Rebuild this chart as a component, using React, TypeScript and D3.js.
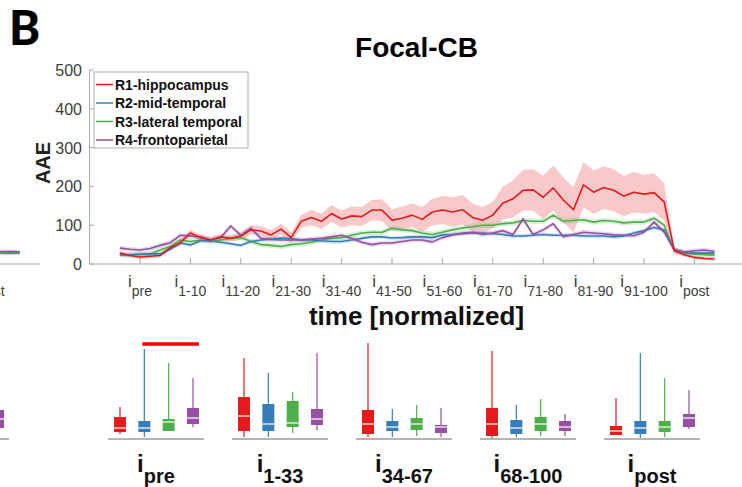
import React from "react";
import * as d3 from "d3";

// ---------- DATA ----------
const SERIES = ["R1-hippocampus", "R2-mid-temporal", "R3-lateral temporal", "R4-frontoparietal"];
const COLORS = ["#e41a1c", "#377eb8", "#4daf4a", "#984ea3"];

const TICK_POS = [0, 10, 20, 30, 40, 50, 60, 70, 80, 90, 100, 110];
const TICK_SUB = ["pre", "1-10", "11-20", "21-30", "31-40", "41-50", "51-60", "61-70", "71-80", "81-90", "91-100", "post"];
const Y_TICKS = [0, 100, 200, 300, 400, 500];

// sample positions (normalized time units)
const T = d3.range(60).map((k) => -4 + 2 * k);

const R1 = [28, 22, 18, 20, 22, 42, 55, 80, 68, 62, 70, 66, 72, 88, 85, 75, 90, 68, 110, 120,
  110, 130, 116, 124, 122, 139, 139, 113, 118, 126, 115, 134, 139, 134, 140, 120, 113, 126, 157, 168,
  190, 191, 172, 196, 165, 140, 204, 185, 197, 190, 175, 185, 180, 184, 160, 35, 24, 17, 14, 13];
const R1_SEM = [5, 5, 5, 5, 5, 6, 8, 8, 8, 8, 8, 8, 10, 12, 12, 12, 14, 14, 16, 20,
  20, 22, 22, 24, 25, 26, 28, 28, 30, 30, 32, 34, 36, 38, 38, 36, 34, 34, 42, 48,
  52, 54, 56, 58, 58, 58, 58, 56, 55, 54, 52, 52, 50, 50, 48, 10, 5, 4, 4, 4];
const R2 = [24, 24, 25, 26, 26, 38, 54, 49, 60, 60, 56, 52, 48, 58, 62, 64, 67, 65, 62, 62,
  60, 58, 58, 62, 66, 70, 70, 67, 68, 70, 70, 68, 75, 76, 78, 80, 80, 78, 76, 72,
  72, 74, 76, 74, 74, 74, 72, 72, 72, 70, 72, 80, 86, 94, 88, 36, 30, 28, 28, 28];
const R3 = [23, 24, 25, 26, 36, 45, 62, 58, 62, 58, 62, 66, 68, 58, 50, 48, 45, 50, 52, 56,
  62, 66, 68, 74, 80, 82, 82, 92, 88, 86, 80, 76, 82, 88, 93, 96, 100, 100, 104, 106,
  112, 110, 110, 126, 110, 112, 114, 108, 112, 110, 106, 108, 108, 118, 100, 36, 28, 25, 24, 23];
const R4 = [41, 38, 36, 40, 48, 55, 74, 72, 70, 62, 68, 98, 74, 92, 66, 63, 62, 62, 62, 64,
  66, 70, 74, 66, 56, 50, 54, 54, 58, 62, 62, 57, 68, 75, 80, 82, 76, 80, 86, 76,
  116, 76, 88, 104, 70, 76, 82, 80, 78, 75, 74, 73, 82, 108, 82, 36, 31, 34, 36, 32];
const OTHER_SEM = [5, 7, 6]; // R2, R3, R4

// fragment of the neighbouring panel (left edge)
const PREV_T = [104, 106, 108, 110, 112, 114, 116];
const PREV_VALUES = [
  [30, 29, 30, 29, 30, 29, 30],
  [27, 26, 27, 26, 27, 28, 27],
  [29, 28, 30, 29, 28, 30, 29],
  [33, 32, 34, 33, 32, 33, 32],
];

// box plots: [lo, q1, median, q3, hi] per group per series
const GROUPS = ["pre", "1-33", "34-67", "68-100", "post"];
const BOX_R1 = [[5, 7, 11, 22, 32], [2, 8, 23, 42, 81], [2, 5, 15, 29, 96], [1, 3, 15, 31, 88], [4, 4, 8, 13, 41]];
const BOX_R2 = [[2, 7, 11, 18, 90], [2, 8, 15, 35, 66], [2, 8, 12, 18, 30], [2, 5, 11, 19, 34], [1, 5, 11, 18, 86]];
const BOX_R3 = [[8, 8, 17, 20, 76], [6, 12, 16, 38, 47], [3, 9, 15, 21, 34], [3, 8, 15, 22, 40], [2, 7, 12, 18, 61]];
const BOX_R4 = [[12, 15, 21, 31, 61], [9, 14, 20, 30, 86], [2, 6, 12, 14, 31], [3, 8, 12, 18, 25], [10, 12, 21, 25, 49]];
const BOXES = [BOX_R1, BOX_R2, BOX_R3, BOX_R4];
const PREV_BOX_R4 = [8, 11, 20, 29, 45];
const SIG_BAR = { group: 0, from: 1, to: 3, level: 95 };

// ---------- CHART ----------
const FONT = "'Liberation Sans', Arial, sans-serif";

export default function App() {
  const W = 742, H = 487;
  const x = d3.scaleLinear().domain([-10, 120]).range([89.6, 744.8]);
  const y = d3.scaleLinear().domain([0, 500]).range([264, 70]);
  const xPrev = d3.scaleLinear().domain([-10, 120]).range([89.6 - 705, 744.8 - 705]);

  const series = [R1, R2, R3, R4];
  const sems = [R1_SEM, ...OTHER_SEM.map((s) => T.map(() => s))];

  const line = d3.line<number>().x((_, i) => x(T[i])).y((d) => y(d));
  const area = (vals: number[], sem: number[]) =>
    d3.area<number>().x((_, i) => x(T[i])).y0((d, i) => y(d - sem[i])).y1((d, i) => y(d + sem[i]))(vals) || "";
  const prevLine = d3.line<number>().x((_, i) => xPrev(PREV_T[i])).y((d) => y(d));

  // box panel scales
  const yB = d3.scaleLinear().domain([0, 100]).range([439, 339]);
  const gx = d3.scaleLinear().domain([0, 1]).range([108, 232]);
  const gxPrev = d3.scaleLinear().domain([0, 1]).range([108 - 691, 232 - 691]);
  const groupW = 96;
  const inner = d3.scalePoint<number>().domain([0, 1, 2, 3]).range([12, 85]);
  const bw = 12;

  const renderBox = (cx: number, s: number[], color: string, key: string) => {
    const [lo, q1, med, q3, hi] = s;
    return (
      <g key={key}>
        <line x1={cx} x2={cx} y1={yB(hi)} y2={yB(lo)} stroke={color} strokeWidth={1.2} />
        <rect x={cx - bw / 2} y={yB(q3)} width={bw} height={yB(q1) - yB(q3)} fill={color} />
        <line x1={cx - bw / 2} x2={cx + bw / 2} y1={yB(med)} y2={yB(med)} stroke="#fff" strokeWidth={1.2} />
      </g>
    );
  };

  const axisColor = "#a6a6a6";
  const textColor = "#404040";

  return (
    <svg width={W} height={H} style={{ position: "absolute", left: 0, top: 0, background: "#fff" }} fontFamily={FONT}>
      <rect width={W} height={H} fill="#fff" />
      {/* panel label */}
      <text x={9} y={45} fontFamily="Lato, 'Open Sans', sans-serif" fontWeight={900} fontSize={47} fill="#000">B</text>
      {/* title */}
      <text x={416.5} y={57} textAnchor="middle" fontWeight="bold" fontSize={28} fill="#000">Focal-CB</text>

      {/* previous panel fragment */}
      <line x1={0} x2={xPrev(120)} y1={264} y2={264} stroke={axisColor} />
      {PREV_VALUES.map((v, i) => (
        <path key={"pv" + i} d={prevLine(v) || ""} fill="none" stroke={COLORS[i]} strokeWidth={1.6} />
      ))}
      <text x={xPrev(110)} y={287} textAnchor="middle" fontSize={17} fill={textColor}>
        i<tspan fontSize={14} dy={9}>post</tspan>
      </text>

      {/* bands */}
      {series.map((v, i) => (
        <path key={"b" + i} d={area(v, sems[i])} fill={COLORS[i]} opacity={i === 0 ? 0.24 : 0.2} />
      ))}
      {/* lines */}
      {[2, 1, 3, 0].map((i) => (
        <path key={"l" + i} d={line(series[i]) || ""} fill="none" stroke={COLORS[i]} strokeWidth={1.6} strokeLinejoin="round" />
      ))}

      {/* axes */}
      <line x1={x(-10)} x2={x(-10)} y1={y(0)} y2={y(500)} stroke={axisColor} />
      <line x1={x(-10)} x2={x(120)} y1={y(0)} y2={y(0)} stroke={axisColor} />
      {Y_TICKS.map((t) => (
        <g key={"yt" + t}>
          <line x1={x(-10)} x2={x(-10) + 4} y1={y(t)} y2={y(t)} stroke={axisColor} />
          <text x={82} y={y(t) + 6} textAnchor="end" fontSize={16} fill={textColor}>{t}</text>
        </g>
      ))}
      {TICK_POS.map((t, i) => (
        <g key={"xt" + t}>
          <line x1={x(t)} x2={x(t)} y1={y(0)} y2={y(0) - 6} stroke={axisColor} />
          <text x={x(t)} y={287} textAnchor="middle" fontSize={17} fill={textColor}>
            i<tspan fontSize={14} dy={9}>{TICK_SUB[i]}</tspan>
          </text>
        </g>
      ))}
      <text transform={`translate(50,163) rotate(-90)`} textAnchor="middle" fontWeight="bold" fontSize={20} fill="#222">AAE</text>
      <text x={416.5} y={325} textAnchor="middle" fontWeight="bold" fontSize={26} fill="#111">time [normalized]</text>

      {/* legend */}
      <rect x={94} y={72} width={154} height={76} fill="#fff" stroke="#b0b0b0" />
      {SERIES.map((s, i) => {
        const ly = 84.5 + i * 18.5;
        return (
          <g key={"lg" + i}>
            <line x1={96} x2={113} y1={ly} y2={ly} stroke={COLORS[i]} strokeWidth={1.5} />
            <text x={115} y={ly + 5} fontSize={14} fontWeight="bold" fill="#111">{s}</text>
          </g>
        );
      })}

      {/* box panels */}
      {/* previous panel fragment */}
      <line x1={gxPrev(4)} x2={gxPrev(4) + groupW} y1={yB(0)} y2={yB(0)} stroke="#b4b4b4" strokeWidth={2} />
      {renderBox(gxPrev(4) + (inner(3) as number), PREV_BOX_R4, COLORS[3], "prevbox")}

      {GROUPS.map((g, gi) => (
        <g key={"g" + gi}>
          <line x1={gx(gi)} x2={gx(gi) + groupW} y1={yB(0)} y2={yB(0)} stroke="#b4b4b4" strokeWidth={2} />
          {BOXES.map((b, si) => renderBox(gx(gi) + (inner(si) as number), b[gi], COLORS[si], `bx${gi}-${si}`))}
          <text x={gx(gi) + groupW / 2} y={472} textAnchor="middle" fontWeight="bold" fontSize={24} fill="#111">
            i<tspan fontSize={20} dy={11}>{g}</tspan>
          </text>
        </g>
      ))}
      <line
        x1={gx(SIG_BAR.group) + (inner(SIG_BAR.from) as number) - 2}
        x2={gx(SIG_BAR.group) + (inner(SIG_BAR.to) as number) + bw / 2}
        y1={yB(SIG_BAR.level)}
        y2={yB(SIG_BAR.level)}
        stroke="#ff0000"
        strokeWidth={3.5}
      />
    </svg>
  );
}
